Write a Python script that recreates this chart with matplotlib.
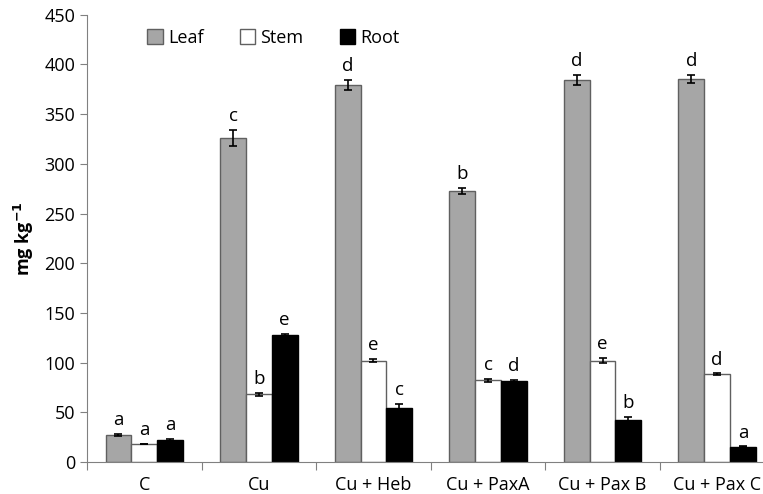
import matplotlib.pyplot as plt
import numpy as np
from matplotlib.ticker import FixedLocator, NullFormatter

plt.rcParams['font.family'] = ['Open Sans', 'DejaVu Sans']

groups = ['C', 'Cu', 'Cu + Heb', 'Cu + PaxA', 'Cu + Pax B', 'Cu + Pax C']
leaf = [27, 326, 379, 273, 384, 385]
leaf_err = [1, 8, 5, 3, 5, 4]
stem = [18, 68, 102, 82, 102, 88]
stem_err = [0, 1.5, 1.5, 1.5, 2.5, 1]
root = [22, 128, 54, 81, 42, 15]
root_err = [1.5, 1, 4, 1, 3, 0.5]
leaf_letters = ['a', 'c', 'd', 'b', 'd', 'd']
stem_letters = ['a', 'b', 'e', 'c', 'e', 'd']
root_letters = ['a', 'e', 'c', 'd', 'b', 'a']

fig = plt.figure(figsize=(7.63, 4.94), dpi=100)
ax = fig.add_axes([0.114, 0.065, 0.886, 0.905])

x = np.arange(len(groups))
w = 0.225
edge = '#606060'
series = [
    (leaf, leaf_err, leaf_letters, '#a6a6a6', 'Leaf', -w),
    (stem, stem_err, stem_letters, 'white', 'Stem', 0),
    (root, root_err, root_letters, 'black', 'Root', w),
]
for vals, errs, lets, col, lab, off in series:
    ax.bar(x + off, vals, w, color=col, edgecolor=edge if col != 'black' else 'black',
           linewidth=1, label=lab, zorder=2)
    ax.errorbar(x + off, vals, yerr=errs, fmt='none', ecolor='black',
                elinewidth=1.2, capsize=3, capthick=1.2, zorder=3)
    for xi, v, e, t in zip(x + off, vals, errs, lets):
        ax.text(xi, v + e + 5, t, ha='center', va='bottom', fontsize=13.5)

ax.set_xlim(-0.5, 5.4)
ax.set_ylim(0, 450)
ax.set_yticks(range(0, 451, 50))
ax.tick_params(axis='y', labelsize=13, direction='out', length=5, color='#808080')
ax.xaxis.set_major_locator(FixedLocator(np.arange(-0.5, 6, 1.0)))
ax.xaxis.set_major_formatter(NullFormatter())
ax.xaxis.set_minor_locator(FixedLocator(x))
ax.set_xticklabels(groups, minor=True)
ax.tick_params(axis='x', which='major', direction='out', length=6, color='#808080')
ax.tick_params(axis='x', which='minor', length=0, labelsize=13, pad=10)

for s in ['top', 'right']:
    ax.spines[s].set_visible(False)
for s in ['left', 'bottom']:
    ax.spines[s].set_color('#808080')

ax.set_ylabel('mg kg$^{\\mathbf{-1}}$', fontsize=13, fontweight='bold', labelpad=6)

ax.legend(loc='upper left', bbox_to_anchor=(0.065, 1.005), ncol=3, frameon=False,
          fontsize=13, handlelength=0.85, handleheight=0.85, handletextpad=0.3,
          columnspacing=2.0)

fig.savefig('out.png', dpi=100)
